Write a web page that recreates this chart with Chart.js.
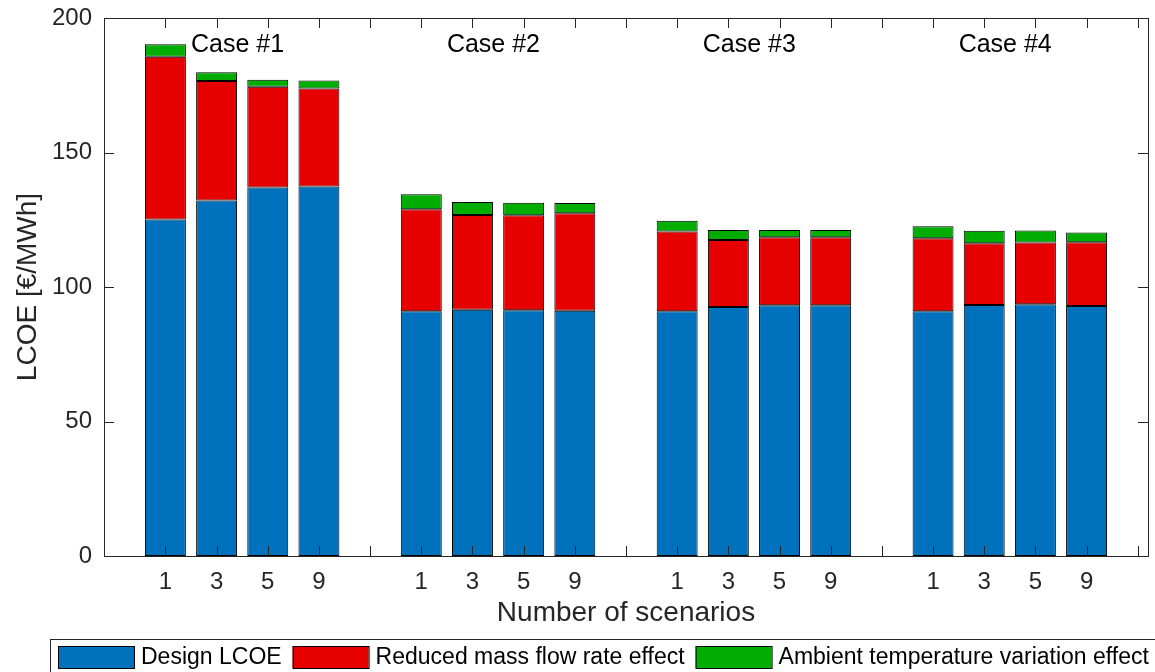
<!DOCTYPE html>
<html>
<head>
<meta charset="utf-8">
<title>LCOE by number of scenarios</title>
<script src="https://cdn.jsdelivr.net/npm/chart.js@4.4.1/dist/chart.umd.min.js"></script>
<style>
  html, body { margin: 0; padding: 0; background: #fff; }
  #wrap { position: relative; width: 1155px; height: 672px; }
</style>
</head>
<body>
<div id="wrap"><canvas id="lcoe-chart"></canvas></div>
<script>
// x slots: 4 cases x 4 scenario counts, with an empty slot after each case
const barSlots = [1, 2, 3, 4, 6, 7, 8, 9, 11, 12, 13, 14, 16, 17, 18, 19];
const tickSlots = [1, 2, 3, 4, 5, 6, 7, 8, 9, 10, 11, 12, 13, 14, 15, 16, 17, 18, 19, 20];
const scenarioLabels = ['1', '3', '5', '9'];
const caseNames = ['Case #1', 'Case #2', 'Case #3', 'Case #4'];
const caseLabelSlots = [1.5, 6.5, 11.5, 16.5];
const caseLabelValue = 190;
const yTicks = [0, 50, 100, 150, 200];

// LCOE [€/MWh]
const designLCOE     = [125.1, 132.2, 137.0, 137.4, 91.0, 91.5, 91.4, 91.2, 91.0, 92.6, 93.2, 93.2, 91.0, 93.3, 93.6, 92.9];
const massFlowEffect = [60.5, 44.4, 37.4, 36.4, 37.9, 35.3, 35.3, 36.2, 29.6, 24.9, 25.3, 25.3, 27.1, 23.0, 22.9, 23.7];
const ambientEffect  = [4.6, 3.2, 2.6, 3.0, 5.6, 4.8, 4.6, 3.8, 4.0, 3.7, 2.7, 2.7, 4.5, 4.6, 4.5, 3.7];

const FONT = 'Liberation Sans, Arial, Helvetica, sans-serif';
const AXIS_COLOR = '#262626';

const tickLabelBySlot = {};
barSlots.forEach((s, i) => { tickLabelBySlot[s] = scenarioLabels[i % scenarioLabels.length]; });

const toPoints = values => values.map((v, i) => ({ x: barSlots[i], y: v }));

// box round the plot with inward ticks on all four sides
const frame = {
  id: 'frame',
  afterDatasetsDraw(chart) {
    const { ctx, chartArea: a, scales: { x, y } } = chart;
    const len = 10;
    ctx.save();
    ctx.strokeStyle = AXIS_COLOR;
    ctx.lineWidth = 1;
    ctx.beginPath();
    tickSlots.forEach(s => {
      const px = Math.round(x.getPixelForValue(s)) + 0.5;
      ctx.moveTo(px, a.bottom); ctx.lineTo(px, a.bottom - len);
      ctx.moveTo(px, a.top); ctx.lineTo(px, a.top + len);
    });
    yTicks.forEach(v => {
      const py = Math.round(y.getPixelForValue(v)) + 0.5;
      ctx.moveTo(a.left, py); ctx.lineTo(a.left + len, py);
      ctx.moveTo(a.right, py); ctx.lineTo(a.right - len, py);
    });
    ctx.stroke();
    ctx.strokeRect(Math.round(a.left) + 0.5, Math.round(a.top) + 0.5,
      Math.round(a.right - a.left), Math.round(a.bottom - a.top));
    ctx.restore();
  }
};

const caseLabels = {
  id: 'caseLabels',
  afterDatasetsDraw(chart) {
    const { ctx, scales: { x, y } } = chart;
    ctx.save();
    ctx.font = '25px ' + FONT;
    ctx.fillStyle = '#000';
    ctx.textAlign = 'left';
    ctx.textBaseline = 'middle';
    caseNames.forEach((name, i) => {
      ctx.fillText(name, x.getPixelForValue(caseLabelSlots[i]), y.getPixelForValue(caseLabelValue));
    });
    ctx.restore();
  }
};

// MATLAB style legend strip under the axes
const boxLegend = {
  id: 'boxLegend',
  afterDraw(chart) {
    const { ctx } = chart;
    const top = 639, swW = 76, swH = 22;
    ctx.save();
    ctx.strokeStyle = AXIS_COLOR;
    ctx.lineWidth = 1;
    ctx.strokeRect(50.5, top + 0.5, 1120, 50);
    ctx.font = '23px ' + FONT;
    ctx.textBaseline = 'middle';
    let cx = 58;
    chart.data.datasets.forEach(ds => {
      ctx.fillStyle = ds.backgroundColor;
      ctx.fillRect(cx, top + 7, swW, swH);
      ctx.strokeStyle = '#000';
      ctx.strokeRect(cx + 0.5, top + 7.5, swW, swH);
      ctx.fillStyle = '#000';
      ctx.fillText(ds.label, cx + swW + 7, top + 7 + swH / 2 + 1);
      cx += swW + 7 + ctx.measureText(ds.label).width + 11;
    });
    ctx.restore();
  }
};

const barStyle = { borderColor: '#000', borderWidth: 1, borderSkipped: false, barPercentage: 0.8, categoryPercentage: 1 };

new Chart(document.getElementById('lcoe-chart'), {
  type: 'bar',
  data: {
    datasets: [
      { label: 'Design LCOE', data: toPoints(designLCOE), backgroundColor: '#0072bd', ...barStyle },
      { label: 'Reduced mass flow rate effect', data: toPoints(massFlowEffect), backgroundColor: '#e60000', ...barStyle },
      { label: 'Ambient temperature variation effect', data: toPoints(ambientEffect), backgroundColor: '#00ad00', ...barStyle }
    ]
  },
  options: {
    responsive: true,
    maintainAspectRatio: false,
    animation: false,
    layout: { padding: { top: 18, right: 7, left: 0, bottom: 0 } },
    plugins: {
      legend: { display: false },
      tooltip: { enabled: false }
    },
    scales: {
      x: {
        type: 'linear',
        stacked: true,
        min: -0.2,
        max: 20.2,
        offset: false,
        grid: { display: false, drawTicks: false, offset: false },
        border: { display: false },
        afterBuildTicks: axis => { axis.ticks = tickSlots.map(v => ({ value: v })); },
        afterFit: scale => {
          scale.height = 116;
          scale.paddingLeft = 0;
          scale.paddingRight = 0;
        },
        ticks: {
          autoSkip: false,
          maxRotation: 0,
          padding: 12,
          color: AXIS_COLOR,
          font: { family: FONT, size: 24 },
          callback: v => tickLabelBySlot[v] || ''
        },
        title: {
          display: true,
          text: 'Number of scenarios',
          color: AXIS_COLOR,
          font: { family: FONT, size: 28 },
          padding: { top: 0, bottom: 42 }
        }
      },
      y: {
        stacked: true,
        min: 0,
        max: 200,
        grid: { display: false, drawTicks: false },
        border: { display: false },
        afterFit: scale => {
          scale.width = 104;
          scale.paddingTop = 0;
          scale.paddingBottom = 0;
        },
        ticks: {
          stepSize: 50,
          padding: 12,
          color: AXIS_COLOR,
          font: { family: FONT, size: 24 }
        },
        title: {
          display: true,
          text: 'LCOE [€/MWh]',
          color: AXIS_COLOR,
          font: { family: FONT, size: 28 },
          padding: { top: 11, bottom: 0 }
        }
      }
    }
  },
  plugins: [frame, caseLabels, boxLegend]
});
</script>
</body>
</html>
